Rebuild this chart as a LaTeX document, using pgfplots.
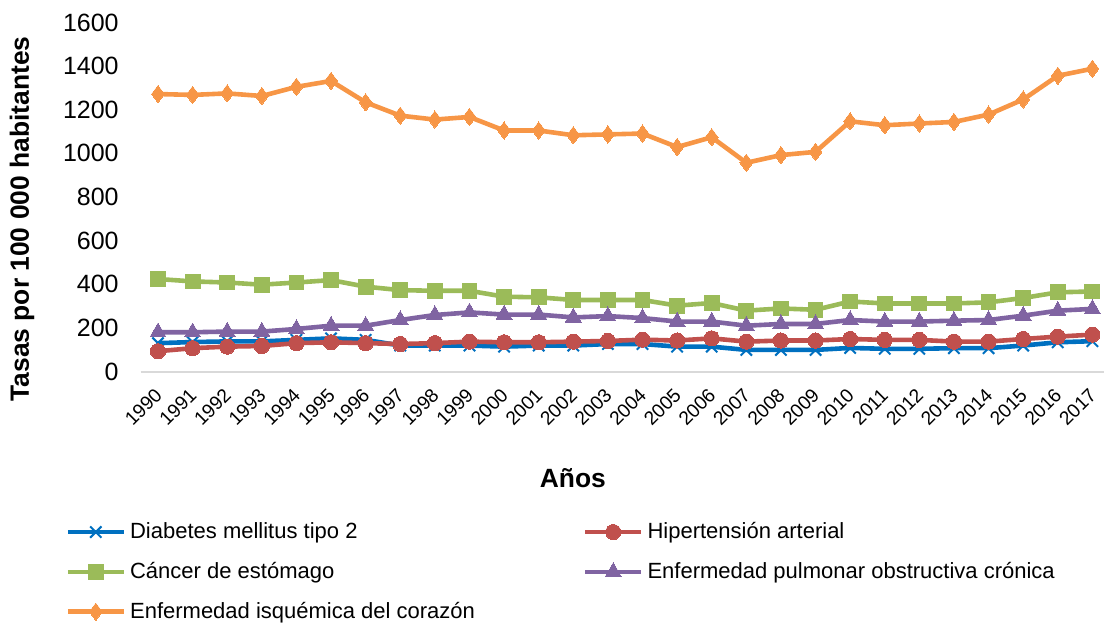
\documentclass[border=0pt]{standalone}
\usepackage{fontspec}
\setmainfont{Liberation Sans}
\usepackage{pgfplots}
\usepackage{pgfplotstable}
\pgfplotsset{compat=1.18}
\definecolor{cblue}{RGB}{0,112,192}
\definecolor{cred}{RGB}{192,80,77}
\definecolor{cgreen}{RGB}{155,187,89}
\definecolor{cpurple}{RGB}{128,100,162}
\definecolor{corange}{RGB}{247,150,70}
\definecolor{caxis}{RGB}{217,217,217}
\pgfplotstableread{
year diab hip can epoc isq
1990 130 93 424 180 1272
1991 135 107 413 180 1268
1992 138 114 408 183 1275
1993 138 117 398 183 1263
1994 145 130 408 195 1305
1995 152 134 419 210 1332
1996 145 130 389 210 1234
1997 119 126 373 236 1173
1998 119 130 370 259 1155
1999 119 137 370 271 1167
2000 114 134 343 261 1105
2001 119 134 340 261 1105
2002 119 137 328 248 1083
2003 126 140 328 254 1087
2004 126 146 328 245 1091
2005 114 142 302 229 1029
2006 114 152 314 229 1074
2007 99 137 279 210 957
2008 99 142 289 218 992
2009 99 142 283 218 1007
2010 108 149 321 236 1147
2011 104 145 312 229 1129
2012 104 145 312 229 1137
2013 107 137 312 233 1144
2014 107 137 317 236 1178
2015 119 149 337 256 1247
2016 134 160 363 279 1356
2017 139 169 367 287 1388
}\datatable
\begin{document}
\begin{tikzpicture}
\begin{axis}[
  at={(0,0)}, anchor=south west,
  scale only axis, width=484.5pt, height=174.5pt,
  xmin=1989.5, xmax=2017.5, ymin=0, ymax=1600,
  xtick={1990,...,2017}, ytick={0,200,...,1600},
  /pgf/number format/1000 sep={},
  /pgf/number format/assume math mode=true,
  axis x line*=bottom, axis y line*=left,
  x axis line style={draw=caxis, line width=1pt, -},
  y axis line style={draw=none, -},
  major tick length=0pt,
  clip=false,
  yticklabel style={font=\fontsize{12.5}{15}\selectfont, xshift=-7.5pt},
  xticklabel style={font=\fontsize{9.6}{12}\selectfont, anchor=center, xshift=-7.35pt, yshift=-17.75pt, rotate=45},
  ylabel={\textbf{Tasas por 100 000 habitantes}},
  ylabel style={font=\fontsize{13.2}{16}\selectfont, at={(axis description cs:-0.1225,0.437)}, anchor=center},
  xlabel={\textbf{Años}},
  xlabel style={font=\fontsize{13.2}{16}\selectfont, at={(axis description cs:0.446,-0.306)}, anchor=center},
  legend columns=2,
  legend cell align=left,
  legend style={draw=none, fill=none, font=\fontsize{11}{13}\selectfont,
    at={(axis description cs:-0.078,-0.42)}, anchor=north west,
    /tikz/every even column/.append style={column sep=52pt},
    row sep=6.3pt, inner sep=0pt},
  legend image code/.code={\draw[mark repeat=2,mark phase=2] plot coordinates {(0pt,0pt) (14pt,0pt) (28pt,0pt)};},
  every axis plot/.append style={line width=2.3pt},
]
\addplot[cblue, mark=x, mark size=4pt, mark options={line width=1pt}] table[x=year,y=diab]{\datatable};
\addlegendentry{Diabetes mellitus tipo 2}
\addplot[cred, mark=*, mark size=3.8pt, mark options={line width=0pt}] table[x=year,y=hip]{\datatable};
\addlegendentry{Hipertensión arterial}
\addplot[cgreen, mark=square*, mark size=3.7pt, mark options={line width=0pt}] table[x=year,y=can]{\datatable};
\addlegendentry{Cáncer de estómago}
\addplot[cpurple, mark=triangle*, mark size=4.6pt, mark options={line width=0pt}] table[x=year,y=epoc]{\datatable};
\addlegendentry{Enfermedad pulmonar obstructiva crónica}
\addplot[corange, mark=diamond*, mark size=4.3pt, mark options={line width=0pt}] table[x=year,y=isq]{\datatable};
\addlegendentry{Enfermedad isquémica del corazón}
\end{axis}
\pgfresetboundingbox
\useasboundingbox (-70.35pt,-125.25pt) rectangle (481.65pt,185.75pt);
\end{tikzpicture}
\end{document}
